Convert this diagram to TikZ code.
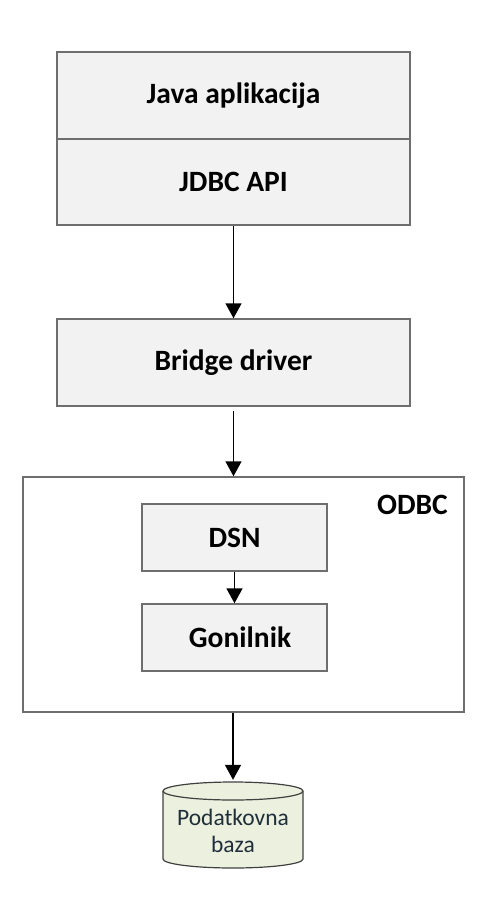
\documentclass[tikz,border=0pt]{standalone}
\usepackage{fontspec}
\setmainfont{Carlito}
\usetikzlibrary{arrows.meta}
\definecolor{boxfill}{HTML}{F2F2F2}
\definecolor{boxline}{HTML}{6E6E6E}
\definecolor{cylfill}{HTML}{EBF1DE}
\definecolor{cylline}{HTML}{404040}
\definecolor{cyltext}{HTML}{1F2E3A}
\begin{document}
\begin{tikzpicture}[x=1pt,y=1pt,
  box/.style={draw=boxline, fill=boxfill, line width=1.5pt, minimum width=353pt, inner sep=0pt,
    font=\bfseries\fontsize{29.5}{34}\selectfont},
  inbox/.style={box, minimum width=185pt, minimum height=67pt},
  arr/.style={-{Triangle[length=15pt,width=16pt]}, line width=1.7pt, black},
  lbl/.style={font=\bfseries\fontsize{29.5}{34}\selectfont, inner sep=0pt}]
\useasboundingbox (0,0) rectangle (496,-918);
\node[box, minimum height=87pt] (app) at (233.5,-95.5) {Java aplikacija};
\node[box, minimum height=86pt] (jdbc) at (233.5,-182) {JDBC API};
\node[box, minimum height=87pt] (bridge) at (233.5,-362.5) {Bridge driver};
\node[draw=boxline, fill=white, line width=1.5pt, minimum width=441pt, minimum height=235pt, inner sep=0pt] (odbc) at (243.5,-594.5) {};
\node[lbl] (odbclbl) at (412.5,-505) {ODBC};
\node[inbox] (dsn) at (234.5,-537.5) {DSN};
\node[inbox] (gon) at (234.5,-637.5) {\hspace*{11pt}Gonilnik};
\node[minimum width=140pt, minimum height=86pt, inner sep=0pt] (db) at (233,-825) {};
\path[draw=cylline, fill=cylfill, line width=1.2pt]
  (163,-791) -- (163,-859) arc[start angle=180, end angle=360, x radius=70pt, y radius=9pt]
  -- (303,-791) arc[start angle=0, end angle=180, x radius=70pt, y radius=9pt] -- cycle;
\draw[cylline, line width=1.2pt] (163,-791) arc[start angle=180, end angle=360, x radius=70pt, y radius=9pt];
\node[align=center, text=cyltext, font=\fontsize{23.5}{27}\selectfont, inner sep=0pt] (dbtxt) at (233,-831) {Podatkovna\\baza};
\draw[arr] (jdbc.south) -- (bridge.north);
\draw[arr, shorten <=4pt] (bridge.south) -- (bridge.south |- odbc.north);
\draw[arr] (dsn.south) -- (gon.north);
\draw[arr] (odbc.south -| db.north) -- ([yshift=2pt]db.north);
\end{tikzpicture}
\end{document}
